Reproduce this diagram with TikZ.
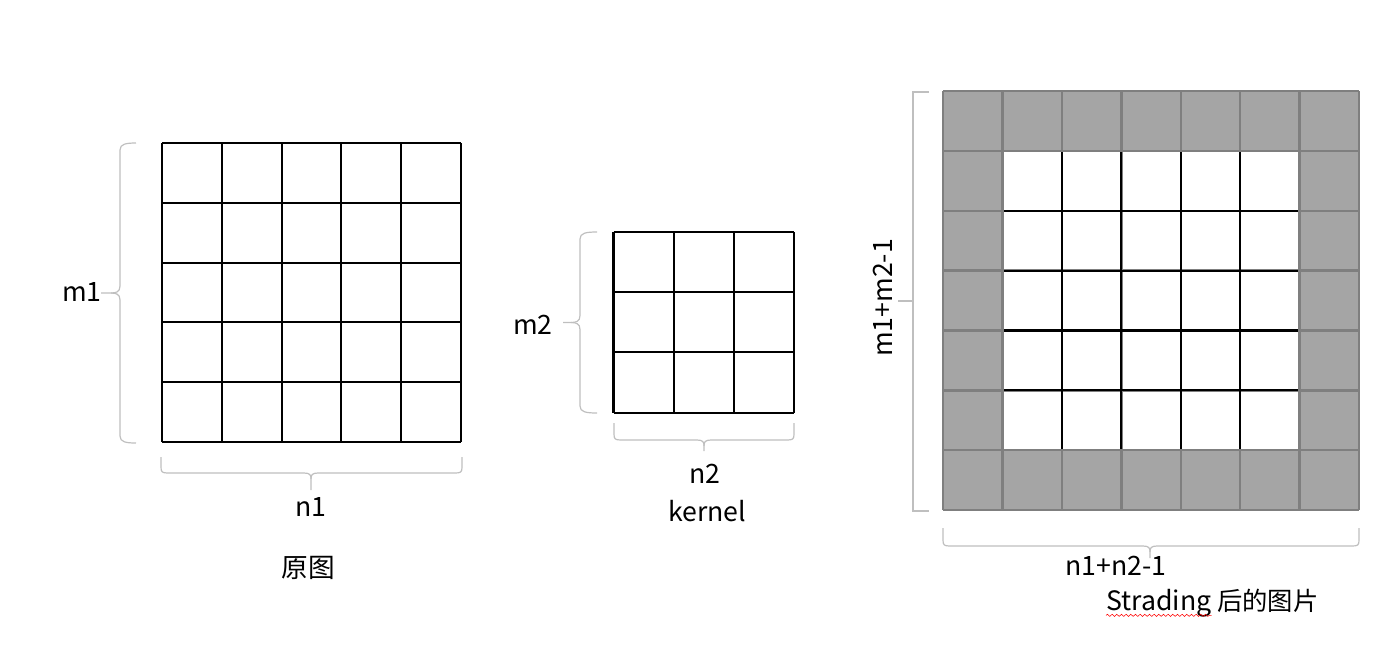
\documentclass[tikz,border=0pt]{standalone}
\usepackage{fontspec}
\setmainfont{Noto Sans CJK SC}
\usetikzlibrary{decorations.pathmorphing}
\definecolor{padgray}{HTML}{A5A5A5}
\definecolor{padline}{HTML}{7F7F7F}
\definecolor{bracegray}{HTML}{BFBFBF}
\tikzset{
  cellline/.style={draw=black,line width=1.6pt},
  padcells/.style={draw=padline,line width=1.8pt},
  bracestyle/.style={draw=bracegray,line width=0.9pt},
  lbl/.style={font=\fontsize{20}{24}\selectfont,inner sep=0pt},
}
% left curly brace: #1 bar x, #2 end x, #3 top y, #4 bottom y, #5 tip x
\newcommand{\mybraceL}[5]{%
  \draw[bracestyle] (#2,#3) .. controls (#1+6,#3) and (#1,#3+1) .. (#1,#3+7)
    -- (#1,{(#3+#4)/2-7}) .. controls (#1,{(#3+#4)/2-1}) and (#1-4,{(#3+#4)/2}) .. (#1-9,{(#3+#4)/2})
    -- (#5,{(#3+#4)/2});
  \draw[bracestyle] (#1-9,{(#3+#4)/2}) .. controls (#1-4,{(#3+#4)/2}) and (#1,{(#3+#4)/2+1}) .. (#1,{(#3+#4)/2+7})
    -- (#1,#4-7) .. controls (#1,#4-1) and (#1+6,#4) .. (#2,#4);}
% bottom curly brace: #1 left x, #2 right x, #3 end y, #4 bar y, #5 tip y, #6 tip x
\newcommand{\mybraceB}[6]{%
  \draw[bracestyle] (#1,#3) -- (#1,#4-6) .. controls (#1,#4-1) and (#1+1,#4) .. (#1+7,#4)
    -- (#6-7,#4) .. controls (#6-1,#4) and (#6,#4+2) .. (#6,#4+6) -- (#6,#5);
  \draw[bracestyle] (#6,#4+6) .. controls (#6,#4+2) and (#6+1,#4) .. (#6+7,#4)
    -- (#2-7,#4) .. controls (#2-1,#4) and (#2,#4-1) .. (#2,#4-6) -- (#2,#3);}
\begin{document}
\begin{tikzpicture}[x=0.75pt,y=-0.75pt]
\useasboundingbox (0,0) rectangle (1392,669);
% ---------- original image 5x5 ----------
\foreach \i in {0,...,5} {
  \draw[cellline] ({162+\i*59.8},143) -- ({162+\i*59.8},442);
  \draw[cellline] (162,{143+\i*59.8}) -- (461,{143+\i*59.8});
}
\mybraceL{120}{136}{143}{443}{101}
\mybraceB{161}{462}{457}{473}{490}{311}
\node[lbl] (m1) at (82,292) {m1};
\node[lbl] (n1) at (311,507) {n1};
\node[lbl] (orig) at (308,568) {原图};
% ---------- kernel 3x3 ----------
\foreach \i in {0,...,3} {
  \draw[cellline] ({613.5+\i*60.2},232) -- ({613.5+\i*60.2},412.5);
  \draw[cellline] (613.5,{232+\i*60.2}) -- (794,{232+\i*60.2});
}
\mybraceL{580}{597}{232}{413}{563}
\mybraceB{614}{794}{423}{440}{451}{704}
\node[lbl] (m2) at (533,325) {m2};
\node[lbl] (n2) at (705,474) {n2};
\node[lbl] (kern) at (707,511) {kernel};
% ---------- padded 7x7 ----------
\fill[padgray] (943,91) rectangle (1359,510);
\fill[white] (1002.4,150.9) rectangle (1299.6,450.1);
\foreach \i in {0,...,7} {
  \draw[padcells] ({943+\i*59.43},91) -- ({943+\i*59.43},510);
  \draw[padcells] (943,{91+\i*59.86}) -- (1359,{91+\i*59.86});
}
\foreach \i in {1,...,4} {
  \draw[cellline] ({1002.4+\i*59.43},150.9) -- ({1002.4+\i*59.43},450.1);
  \draw[cellline] (1002.4,{150.9+\i*59.86}) -- (1299.6,{150.9+\i*59.86});
}
\draw[padcells] (1002.4,150.9) rectangle (1299.6,450.1);
\draw[bracestyle] (929,92) -- (913,92) -- (913,511) -- (929,511);
\draw[bracestyle] (913,301) -- (898,301);
\mybraceB{943}{1359}{528}{546}{558}{1150}
\node[lbl,rotate=90] (m12) at (883,298) {m1+m2-1};
\node[lbl] (n12) at (1116,566) {n1+n2-1};
\node[lbl,anchor=base west] (strad) at (1106,610) {Strading};
\node[lbl,anchor=base west,font=\fontsize{19}{23}\selectfont] (stradcjk) at (1217,610) {后的图片};
\draw[red,line width=0.4pt,decorate,decoration={snake,amplitude=0.8,segment length=3.5}]
  ([yshift=-4pt]strad.base west) -- ([yshift=-4pt]strad.base east);
\end{tikzpicture}
\end{document}
